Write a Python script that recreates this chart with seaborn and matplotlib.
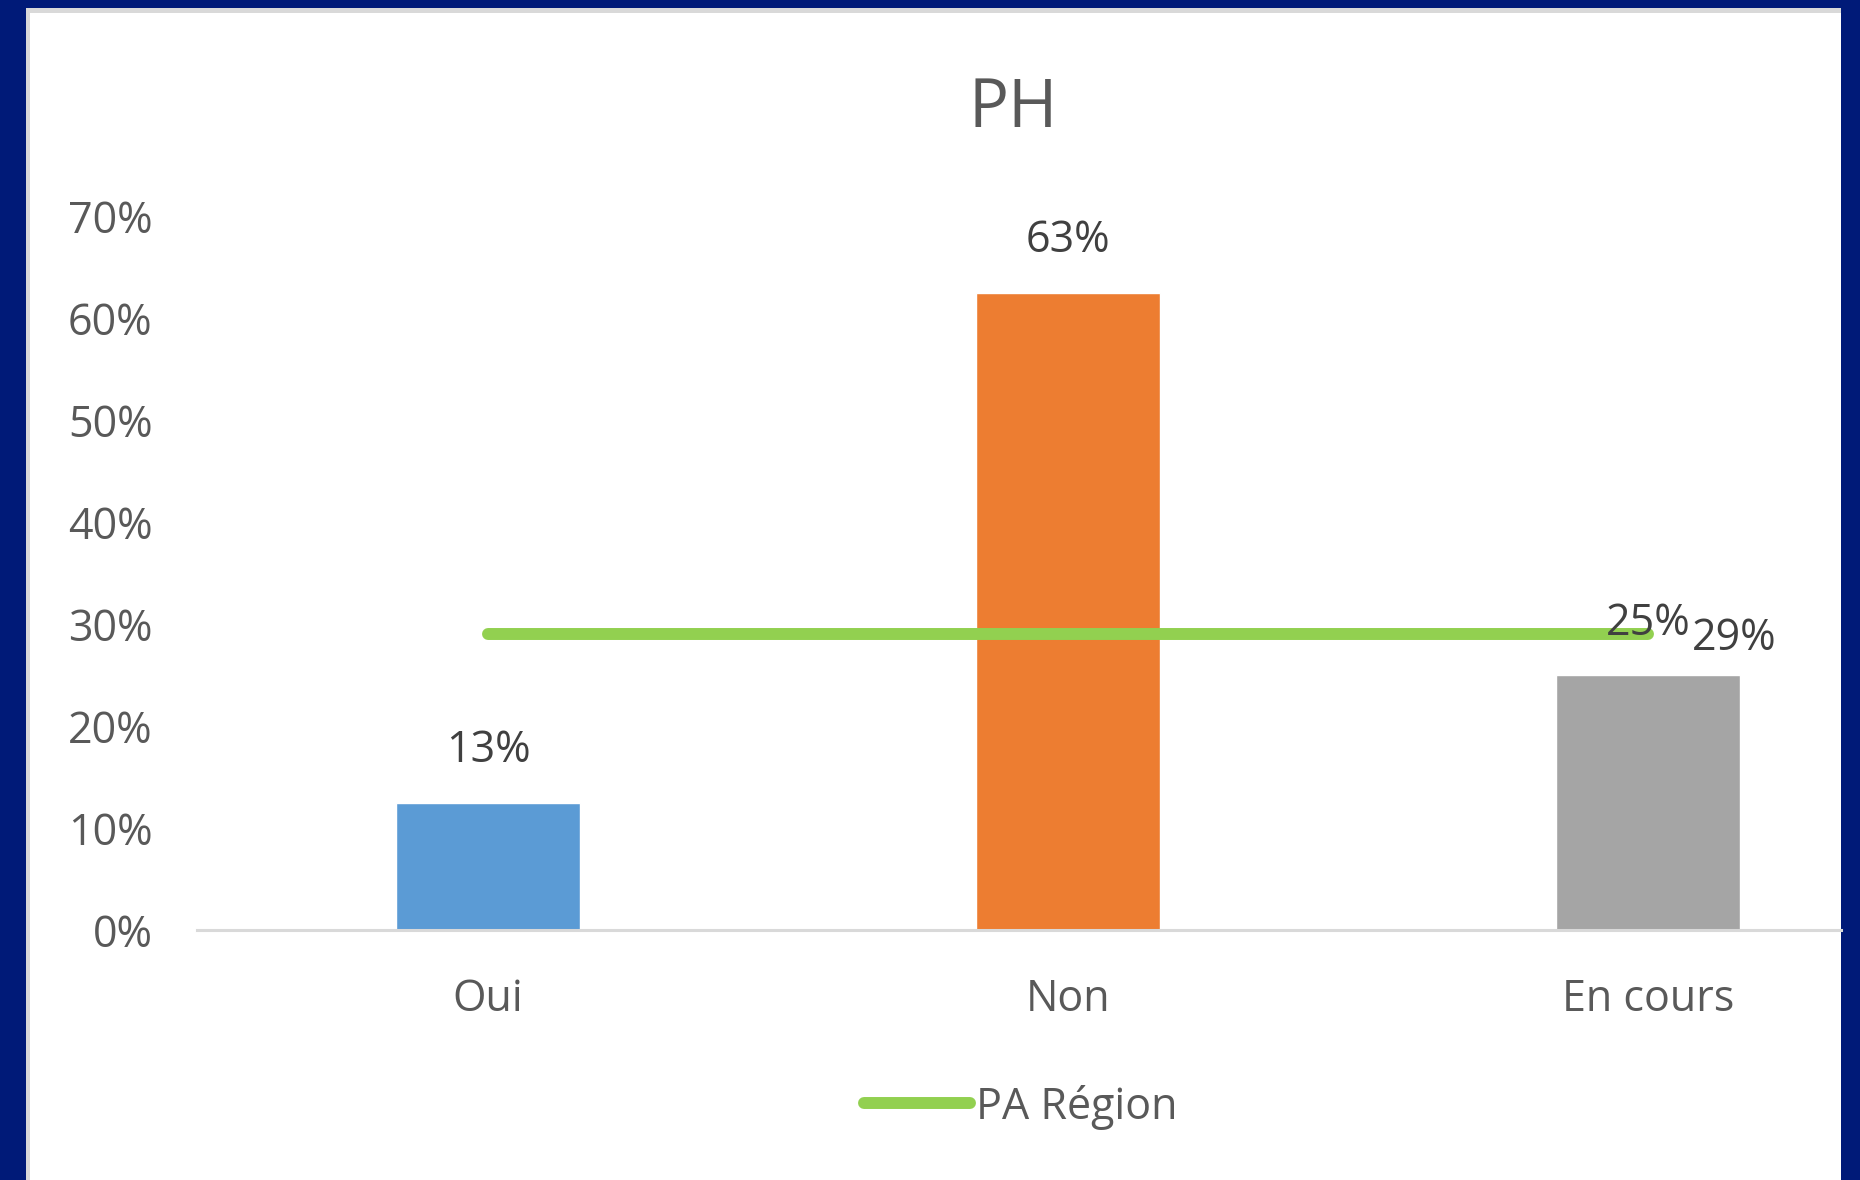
import numpy as np
import pandas as pd
import seaborn as sns
import matplotlib.pyplot as plt
from matplotlib.patches import Rectangle

# data
categories = ["Oui", "Non", "En cours"]
ph_values = [0.125, 0.625, 0.25]
region_values = [0.29, 0.29, 0.29]
y_ticks = [0.0, 0.1, 0.2, 0.3, 0.4, 0.5, 0.6, 0.7]

bar_colors = ["#5B9BD5", "#ED7D31", "#A5A5A5"]
line_color = "#92D050"
text_color = "#595959"
navy = "#001A78"


def pct(v):
    # Excel style rounding (half up)
    return f"{int(np.floor(v * 100 + 0.5))}%"


sns.set_theme(style="white")
plt.rcParams["font.family"] = ["Open Sans", "DejaVu Sans"]

W, H = 1860, 1180
fig = plt.figure(figsize=(W / 100, H / 100), dpi=100, facecolor=navy)

# white panel with thin gray shadow on top
fig.patches.append(Rectangle((26 / W, 0), (1841 - 26) / W, (H - 8) / H,
                             transform=fig.transFigure, facecolor="#D9D9D9",
                             edgecolor="none", zorder=-10))
fig.patches.append(Rectangle((30 / W, 0), (1841 - 30) / W, (H - 13) / H,
                             transform=fig.transFigure, facecolor="white",
                             edgecolor="none", zorder=-9))

ax_bottom = (H - 930) / H
ax_top = (H - 216) / H
ax = fig.add_axes([197 / W, ax_bottom, (1841 - 197) / W, ax_top - ax_bottom])
ax.set_facecolor("none")

df = pd.DataFrame({"cat": categories, "ph": ph_values, "region": region_values})

sns.barplot(data=df, x="cat", y="ph", hue="cat", palette=bar_colors,
            width=0.317, saturation=1, legend=False, ax=ax, zorder=2)
sns.lineplot(data=df, x="cat", y="region", color=line_color, linewidth=8.6,
             sort=False, solid_capstyle="round", label="PA Région", ax=ax, zorder=3)

ax.set_ylim(0, 0.7)
ax.set_xlim(-0.502, 2.333)
ax.set_yticks(y_ticks)
ax.set_yticklabels([pct(t) for t in y_ticks])
ax.set_xlabel("")
ax.set_ylabel("")
ax.tick_params(axis="both", length=0, labelsize=31, labelcolor=text_color)
ax.tick_params(axis="y", pad=32)
ax.tick_params(axis="x", pad=34)
for s in ["top", "right", "left"]:
    ax.spines[s].set_visible(False)
ax.spines["bottom"].set_color("#D9D9D9")
ax.spines["bottom"].set_linewidth(2.2)

# data labels
for i, v in enumerate(ph_values):
    ax.annotate(pct(v), (i, v), xytext=(0, 37), textcoords="offset points",
                ha="center", va="center", fontsize=31, color="#404040", zorder=4)
ax.annotate(pct(region_values[-1]), (len(categories) - 1, region_values[-1]),
            xytext=(32, -3), textcoords="offset points", ha="left", va="center",
            fontsize=31, color="#404040", zorder=4)

fig.text(1013 / W, 1 - 127 / H, "PH", ha="center", va="baseline",
         fontsize=48, color=text_color)

ax.legend_.remove()
handles, labels = ax.get_legend_handles_labels()
fig.legend(handles, labels, loc="center", bbox_to_anchor=(1021 / W, 1 - 1107 / H),
           frameon=False, fontsize=31, labelcolor=text_color,
           handlelength=2.45, handletextpad=0.15)

fig.savefig("out.png", dpi=100, facecolor=navy)
